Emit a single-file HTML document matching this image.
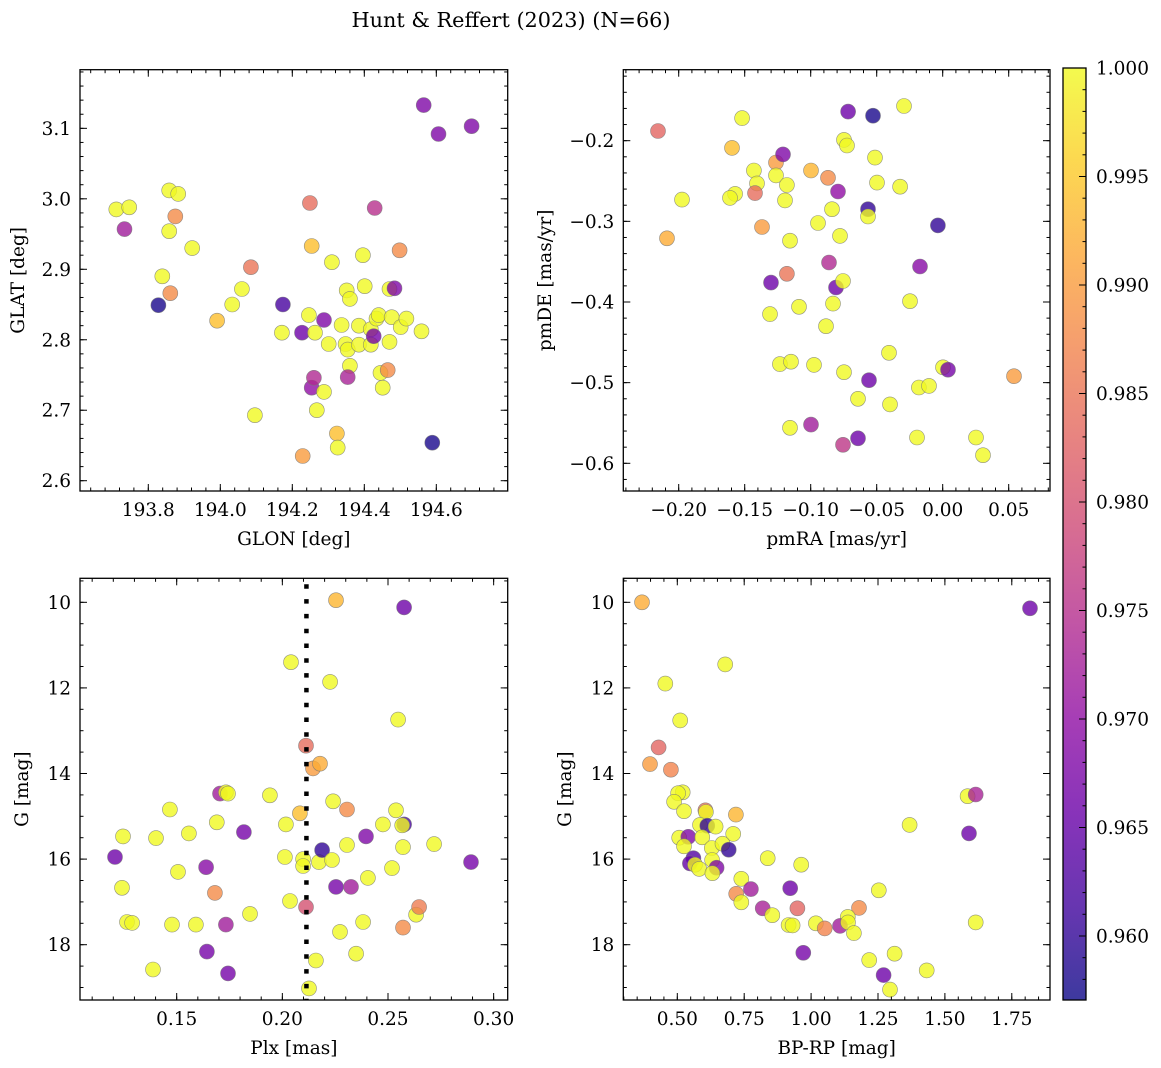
<!DOCTYPE html>
<html><head><meta charset="utf-8"><title>Hunt & Reffert (2023)</title>
<style>html,body{margin:0;padding:0;background:#fff}svg{display:block}text{font-family:"DejaVu Serif","Liberation Serif",serif;fill:#000}</style>
</head><body>
<svg id="fig" width="1161" height="1068" viewBox="0 0 1161 1068" xmlns="http://www.w3.org/2000/svg">
<rect width="1161" height="1068" fill="#fff"/>
<defs><linearGradient id="cbgrad" x1="0" y1="1" x2="0" y2="0">
<stop offset="0" stop-color="#0d0887"/><stop offset="0.1" stop-color="#41049d"/><stop offset="0.2" stop-color="#6a00a8"/><stop offset="0.3" stop-color="#8f0da4"/><stop offset="0.4" stop-color="#b12a90"/><stop offset="0.5" stop-color="#cc4778"/><stop offset="0.6" stop-color="#e16462"/><stop offset="0.7" stop-color="#f2844b"/><stop offset="0.8" stop-color="#fca636"/><stop offset="0.9" stop-color="#fcce25"/><stop offset="1" stop-color="#f0f921"/>
</linearGradient></defs>
<text x="511" y="27" font-size="20.8" text-anchor="middle">Hunt &amp; Reffert (2023) (N=66)</text>
</svg>
<script>
// Panel 1: GLON / GLAT
const glon1=[193.711,193.747,193.734,193.828,193.839,193.858,193.883,193.858,193.875,193.861,193.922,193.991,194.033,194.060,194.085,194.096,194.171,194.174,194.227,194.249,194.229,194.246,194.254,194.263,194.254,194.260,194.268,194.288,194.288,194.310,194.301,194.324,194.326,194.337,194.351,194.360,194.348,194.354,194.360,194.354,194.385,194.385,194.396,194.401,194.418,194.418,194.426,194.429,194.434,194.440,194.445,194.451,194.465,194.470,194.484,194.470,194.476,194.498,194.501,194.517,194.559,194.589,194.565,194.606,194.698];
const glat1=[2.985,2.988,2.957,2.849,2.890,3.012,3.007,2.954,2.975,2.866,2.930,2.827,2.850,2.872,2.903,2.693,2.810,2.850,2.810,2.994,2.635,2.835,2.933,2.810,2.732,2.746,2.700,2.828,2.726,2.910,2.794,2.667,2.647,2.821,2.870,2.858,2.794,2.786,2.763,2.747,2.820,2.793,2.920,2.876,2.815,2.793,2.805,2.987,2.830,2.835,2.753,2.732,2.757,2.872,2.873,2.797,2.832,2.927,2.818,2.830,2.812,2.654,3.133,3.092,3.103];
const prob1=[1,1,.972,.958,1,1,1,1,.988,.988,1,.994,1,1,.985,1,1,.962,.966,.984,.990,1,.994,1,.970,.974,1,.968,1,1,1,.994,1,1,1,1,1,1,1,.973,1,1,1,1,1,1,.967,.975,1,1,1,1,.988,1,.968,1,1,.988,1,1,1,.958,.968,.968,.968];
// Panel 2: pmRA / pmDE
const pmra2=[-0.2157,-0.2089,-0.1975,-0.1520,-0.1596,-0.1573,-0.1611,-0.1430,-0.1407,-0.1422,-0.1369,-0.1301,-0.1308,-0.1263,-0.1263,-0.1210,-0.1180,-0.1195,-0.1157,-0.1180,-0.1233,-0.1149,-0.1157,-0.1089,-0.0998,-0.0945,-0.0975,-0.0998,-0.0884,-0.0869,-0.0861,-0.0839,-0.0831,-0.0808,-0.0793,-0.0778,-0.0755,-0.0748,-0.0755,-0.0748,-0.0725,-0.0717,-0.0642,-0.0642,-0.0558,-0.0566,-0.0566,-0.0528,-0.0513,-0.0498,-0.0407,-0.0399,-0.0323,-0.0293,-0.0248,-0.0195,-0.0180,-0.0172,-0.0104,-0.0036,0.0002,0.0040,0.0252,0.0305,0.0540];
const pmde2=[-0.188,-0.321,-0.273,-0.172,-0.209,-0.266,-0.271,-0.237,-0.253,-0.265,-0.307,-0.376,-0.415,-0.227,-0.243,-0.217,-0.255,-0.274,-0.324,-0.365,-0.477,-0.474,-0.556,-0.406,-0.237,-0.302,-0.478,-0.552,-0.430,-0.246,-0.351,-0.285,-0.402,-0.382,-0.263,-0.318,-0.374,-0.487,-0.577,-0.199,-0.206,-0.164,-0.569,-0.520,-0.497,-0.285,-0.294,-0.169,-0.221,-0.252,-0.463,-0.527,-0.257,-0.157,-0.399,-0.568,-0.506,-0.356,-0.504,-0.305,-0.481,-0.484,-0.568,-0.590,-0.492];
const prob2=[.983,.992,1,1,.994,1,1,1,1,.984,.990,.966,1,.990,1,.968,1,1,1,.985,1,1,1,1,.993,1,1,.972,1,.988,.974,1,1,.966,.970,1,1,1,.976,1,1,.966,.966,1,.966,.960,1,.958,1,1,1,1,1,1,1,1,1,.969,1,.960,1,.967,1,1,.990];
// Panel 3: Plx / G
const plx3=[0.1208,0.1246,0.1241,0.1265,0.1289,0.1388,0.1402,0.1468,0.1478,0.1506,0.1558,0.1591,0.1639,0.1643,0.1681,0.1690,0.1705,0.1733,0.1743,0.1733,0.1743,0.1818,0.1847,0.1941,0.2017,0.2012,0.2036,0.2041,0.2083,0.2098,0.2098,0.2112,0.2112,0.2145,0.2178,0.2173,0.2126,0.2159,0.2188,0.2226,0.2235,0.2240,0.2254,0.2254,0.2273,0.2306,0.2306,0.2325,0.2349,0.2382,0.2396,0.2405,0.2476,0.2519,0.2538,0.2548,0.2576,0.2567,0.2571,0.2576,0.2571,0.2633,0.2647,0.2718,0.2893];
const gmag3=[15.95,15.47,16.67,17.47,17.49,18.58,15.51,14.84,17.53,16.30,15.40,17.53,16.19,18.16,16.79,15.14,14.47,14.44,14.47,17.53,18.67,15.37,17.28,14.51,15.19,15.95,16.98,11.40,14.93,16.00,16.16,17.12,13.35,13.88,13.77,16.07,19.02,18.37,15.79,11.86,16.02,14.65,9.95,16.65,17.70,14.84,15.67,16.65,18.21,17.47,15.47,16.44,15.19,16.21,14.86,12.74,15.19,15.21,15.72,10.12,17.60,17.30,17.12,15.65,16.07];
const prob3=[.966,1,1,1,1,1,1,1,1,1,1,1,.969,.967,.988,1,.972,1,1,.972,.967,.967,1,1,1,1,1,1,.994,1,1,.980,.984,.990,.992,1,1,1,.960,1,1,1,.993,.967,1,.988,1,.972,1,1,.968,1,1,1,1,1,.962,1,1,.966,.988,1,.986,1,.967];
const plxCut=0.2114;
// Panel 4: BP-RP / G
const bprp4=[0.368,1.818,0.679,0.455,0.511,0.430,0.398,0.476,0.520,0.503,0.488,0.525,0.605,0.607,0.719,0.585,0.612,0.643,0.709,0.507,0.541,0.593,0.525,0.629,0.669,0.692,0.838,0.963,0.630,0.560,0.547,0.566,0.582,0.647,0.631,0.739,0.775,0.922,1.253,0.720,0.739,0.819,0.949,1.179,0.855,1.137,0.916,0.931,1.018,1.051,1.108,1.138,1.160,1.615,0.971,1.217,1.312,1.271,1.432,1.295,1.368,1.585,1.615,1.590];
const gmag4=[10.00,10.14,11.45,11.90,12.76,13.39,13.78,13.91,14.44,14.46,14.66,14.88,14.86,14.90,14.96,15.20,15.22,15.24,15.41,15.50,15.48,15.49,15.70,15.74,15.64,15.78,15.98,16.13,16.02,15.98,16.10,16.13,16.23,16.20,16.33,16.46,16.70,16.68,16.73,16.81,17.01,17.15,17.15,17.14,17.31,17.35,17.54,17.55,17.50,17.62,17.56,17.48,17.73,17.48,18.19,18.36,18.21,18.71,18.60,19.05,15.20,14.53,14.49,15.40];
const prob4=[.992,.966,1,1,1,.983,.990,.987,1,1,1,1,.985,1,.993,1,.960,1,1,1,.968,1,1,1,1,.960,1,1,1,.963,.965,1,1,.968,1,1,.972,.966,1,.988,1,.973,.983,.988,1,1,1,1,1,.987,.972,1,1,1,.967,1,1,.966,1,1,1,1,.973,.966];
// Colorbar
const cbTicks=[0.960,0.965,0.970,0.975,0.980,0.985,0.990,0.995,1.000];
const vmin=0.95705, vmax=1.0;

const NS="http://www.w3.org/2000/svg";
const svg=document.getElementById('fig');
const stops=["#0d0887","#41049d","#6a00a8","#8f0da4","#b12a90","#cc4778","#e16462","#f2844b","#fca636","#fcce25","#f0f921"];
function hx(h){return [parseInt(h.slice(1,3),16),parseInt(h.slice(3,5),16),parseInt(h.slice(5,7),16)];}
function plasma(t){t=Math.max(0,Math.min(1,t));const f=t*10,i=Math.min(9,Math.floor(f)),u=f-i;const a=hx(stops[i]),b=hx(stops[i+1]);return 'rgb('+a.map((v,k)=>Math.round(v+(b[k]-v)*u)).join(',')+')';}
function el(tag,attrs,parent){const e=document.createElementNS(NS,tag);for(const k in attrs)e.setAttribute(k,attrs[k]);(parent||svg).appendChild(e);return e;}
function lin(d0,d1,r0,r1){return v=>r0+(v-d0)*(r1-r0)/(d1-d0);}
const FS=18.5;

function panel(cfg){
  const g=el('g',{});
  
  
  const L=cfg.box[0],T=cfg.box[1],R=cfg.box[2],B=cfg.box[3];
  const sx=lin(cfg.xd[0],cfg.xd[1],L,R);
  const sy=cfg.yinv?lin(cfg.yd[0],cfg.yd[1],T,B):lin(cfg.yd[0],cfg.yd[1],B,T);
  const pts=el('g',{},g);
  
  
  for(let i=0;i<cfg.xs.length;i++){
    const c=el('circle',{cx:sx(cfg.xs[i]).toFixed(1),cy:sy(cfg.ys[i]).toFixed(1),r:7.5,fill:plasma((cfg.ps[i]-vmin)/(vmax-vmin)),'fill-opacity':0.8,stroke:'#777','stroke-width':0.6,'stroke-opacity':0.8},pts);
    
    
  }
  if(cfg.vline!==undefined){
    const ln=el('line',{x1:sx(cfg.vline),x2:sx(cfg.vline),y1:T+6,y2:B,stroke:'#000','stroke-width':4.5,'stroke-dasharray':'4.5 10.3'},g);
    
    
  }
  const ax=el('g',{stroke:'#000','stroke-width':1},g);
  
  
  function ticks(lo,hi,step,len,isX,labels){
    const n0=Math.ceil((lo-1e-9)/step),n1=Math.floor((hi+1e-9)/step);
    for(let n=n0;n<=n1;n++){
      const v=n*step;
      if(isX){const x=sx(v);el('line',{x1:x,x2:x,y1:B,y2:B-len},ax);el('line',{x1:x,x2:x,y1:T,y2:T+len},ax);
        if(labels){const t=el('text',{x:x,y:B+25,'font-size':FS,'text-anchor':'middle',stroke:'none'},g);t.textContent=cfg.xfmt(v);}}
      else{const y=sy(v);el('line',{x1:L,x2:L+len,y1:y,y2:y},ax);el('line',{x1:R,x2:R-len,y1:y,y2:y},ax);
        if(labels){const t=el('text',{x:L-9,y:y+6.5,'font-size':FS,'text-anchor':'end',stroke:'none'},g);t.textContent=cfg.yfmt(v);}}
    }
  }
  const xlo=Math.min(...cfg.xd),xhi=Math.max(...cfg.xd),ylo=Math.min(...cfg.yd),yhi=Math.max(...cfg.yd);
  ticks(xlo,xhi,cfg.xminor,3.5,true,false);ticks(xlo,xhi,cfg.xmajor,7,true,true);
  ticks(ylo,yhi,cfg.yminor,3.5,false,false);ticks(ylo,yhi,cfg.ymajor,7,false,true);
  const fr=el('rect',{x:L,y:T,width:R-L,height:B-T,fill:'none',stroke:'#000','stroke-width':1.3},g);
  
  
  const xl=el('text',{x:(L+R)/2,y:B+54,'font-size':FS,'text-anchor':'middle'},g);xl.textContent=cfg.xlabel;
  
  
  const yx=cfg.ylx,yy=(T+B)/2;
  const yl=el('text',{x:yx,y:yy,'font-size':FS,'text-anchor':'middle',transform:'rotate(-90 '+yx+' '+yy+')'},g);yl.textContent=cfg.ylabel;
  
  
}
function fmt(d){return v=>{if(Math.abs(v)<1e-9)v=0;const s=v.toFixed(d);return s.replace('-','\u2212');};}

panel({name:'glon-glat-panel',box:[80,69.7,507.7,491],xd:[193.6103,194.7983],yd:[2.5854,3.1832],
  xs:glon1,ys:glat1,ps:prob1,xmajor:0.2,xminor:0.04,ymajor:0.1,yminor:0.02,ylx:24,
  xfmt:fmt(1),yfmt:fmt(1),xlabel:'GLON [deg]',ylabel:'GLAT [deg]'});
panel({name:'pmra-pmde-panel',box:[623.3,69.7,1050,491],xd:[-0.24197,0.08129],yd:[-0.63434,-0.11199],
  xs:pmra2,ys:pmde2,ps:prob2,xmajor:0.05,xminor:0.01,ymajor:0.1,yminor:0.02,ylx:551,
  xfmt:fmt(2),yfmt:fmt(1),xlabel:'pmRA [mas/yr]',ylabel:'pmDE [mas/yr]'});
panel({name:'plx-g-panel',box:[80,578.3,507.7,1000],xd:[0.10424,0.30665],yd:[9.439,19.292],yinv:true,
  xs:plx3,ys:gmag3,ps:prob3,vline:plxCut,xmajor:0.05,xminor:0.01,ymajor:2,yminor:0.5,ylx:28,
  xfmt:fmt(2),yfmt:fmt(0),xlabel:'Plx [mas]',ylabel:'G [mag]'});
panel({name:'bprp-g-panel',box:[623.3,578.3,1050,1000],xd:[0.2982,1.8928],yd:[9.439,19.292],yinv:true,
  xs:bprp4,ys:gmag4,ps:prob4,xmajor:0.25,xminor:0.05,ymajor:2,yminor:0.5,ylx:571,
  xfmt:fmt(2),yfmt:fmt(0),xlabel:'BP-RP [mag]',ylabel:'G [mag]'});

// colorbar
(function(){
  const g=el('g',{});
  
  
  const L=1063,R=1086,T=68,B=1000;
  const sy=lin(vmin,vmax,B,T);
  const r=el('rect',{x:L,y:T,width:R-L,height:B-T,fill:'url(#cbgrad)','fill-opacity':0.8},g);
  
  
  for(let n=Math.ceil(vmin*1000);n<=1000;n++){const y=sy(n/1000);el('line',{x1:R,x2:R-3.5,y1:y,y2:y,stroke:'#000','stroke-width':1},g);}
  cbTicks.forEach(v=>{const y=sy(v);el('line',{x1:R,x2:R-7,y1:y,y2:y,stroke:'#000','stroke-width':1},g);
    const t=el('text',{x:R+10,y:y+6.5,'font-size':FS},g);t.textContent=v.toFixed(3);
    
    });
  el('rect',{x:L,y:T,width:R-L,height:B-T,fill:'none',stroke:'#000','stroke-width':1.3},g);
})();
</script>
</body></html>
